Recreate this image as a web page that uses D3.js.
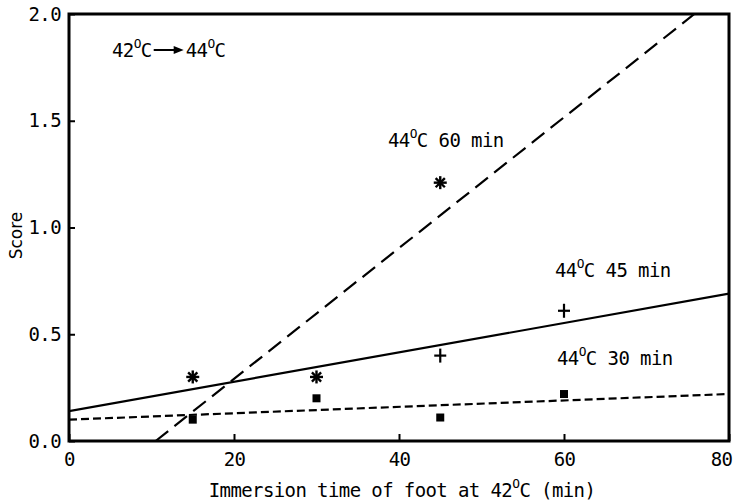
<!DOCTYPE html>
<html><head><meta charset="utf-8">
<script src="https://cdn.jsdelivr.net/npm/d3@7"></script>
<style>body{margin:0;background:#fff}</style>
</head><body>
<svg id="c" width="738" height="504"></svg>
<script>
const xTicks = [0, 20, 40, 60, 80];
const yTicks = [0.0, 0.5, 1.0, 1.5, 2.0];
const times = [15, 30, 45, 60];
const score60 = [0.30, 0.30, 1.21];          // asterisks
const times60 = [15, 30, 45];
const score45 = [0.40, 0.61];                 // plus
const times45 = [45, 60];
const score30 = [0.10, 0.20, 0.11, 0.22];     // squares
const fit60 = [[10.5, 0.0], [75.8, 2.0]];
const fit45 = [[0, 0.14], [80, 0.69]];
const fit30 = [[0, 0.10], [80, 0.22]];

const W = 738, H = 504;
const m = {l: 69, r: 9, t: 14, b: 63};
const svg = d3.select("#c");
const x = d3.scaleLinear().domain([0, 80]).range([m.l, W - m.r]);
const y = d3.scaleLinear().domain([0, 2]).range([H - m.b, m.t]);
const FONT = "DejaVu Sans Mono, monospace";
const FS = 19;

svg.append("clipPath").attr("id", "clip").append("rect")
  .attr("x", m.l).attr("y", m.t).attr("width", W - m.l - m.r).attr("height", H - m.t - m.b);

const gx = svg.append("g").attr("transform", `translate(0,${H - m.b})`)
  .call(d3.axisTop(x).tickValues(xTicks).tickSize(7).tickFormat(""));
gx.select(".domain").remove();
gx.selectAll("line").attr("stroke", "#000").attr("stroke-width", 2);
const gxl = svg.append("g").attr("transform", `translate(0,${H - m.b})`)
  .call(d3.axisBottom(x).tickValues(xTicks).tickSize(0).tickPadding(12).tickFormat(d3.format("d")));
gxl.select(".domain").remove();
gxl.selectAll("text").attr("font-family", FONT).attr("font-size", FS).attr("letter-spacing", -0.6).attr("fill", "#000")
  .attr("dx", d => d === 80 ? -8 : 0);

const gy = svg.append("g").attr("transform", `translate(${m.l},0)`)
  .call(d3.axisRight(y).tickValues(yTicks).tickSize(6).tickFormat(""));
gy.select(".domain").remove();
gy.selectAll("line").attr("stroke", "#000").attr("stroke-width", 2);
const gyl = svg.append("g").attr("transform", `translate(${m.l},0)`)
  .call(d3.axisLeft(y).tickValues(yTicks).tickSize(0).tickPadding(8).tickFormat(d3.format(".1f")));
gyl.select(".domain").remove();
gyl.selectAll("text").attr("font-family", FONT).attr("font-size", FS).attr("letter-spacing", -0.6).attr("fill", "#000");

svg.append("rect").attr("x", m.l).attr("y", m.t).attr("width", W - m.l - m.r).attr("height", H - m.t - m.b)
  .attr("fill", "none").attr("stroke", "#000").attr("stroke-width", 3);

const line = d3.line().x(d => x(d[0])).y(d => y(d[1]));
const g = svg.append("g").attr("clip-path", "url(#clip)");
g.append("path").attr("d", line(fit60)).attr("stroke", "#000").attr("stroke-width", 2.2).attr("fill", "none").attr("stroke-dasharray", "16,8");
g.append("path").attr("d", line(fit45)).attr("stroke", "#000").attr("stroke-width", 2.2).attr("fill", "none");
g.append("path").attr("d", line(fit30)).attr("stroke", "#000").attr("stroke-width", 2.2).attr("fill", "none").attr("stroke-dasharray", "8,4");

function asterisk(sel, cx, cy) {
  const r = 6.5;
  const gg = sel.append("g").attr("transform", `translate(${cx},${cy})`);
  [0, 45, 90, 135].forEach(a => {
    const rad = a * Math.PI / 180;
    gg.append("line").attr("x1", -r * Math.cos(rad)).attr("y1", -r * Math.sin(rad))
      .attr("x2", r * Math.cos(rad)).attr("y2", r * Math.sin(rad))
      .attr("stroke", "#000").attr("stroke-width", 2.4);
  });
}
times60.forEach((t, i) => asterisk(svg, x(t), y(score60[i])));
times45.forEach((t, i) => {
  const gg = svg.append("g").attr("transform", `translate(${x(t)},${y(score45[i])})`);
  gg.append("line").attr("x1", -6).attr("x2", 6).attr("stroke", "#000").attr("stroke-width", 2.2);
  gg.append("line").attr("y1", -7).attr("y2", 7).attr("stroke", "#000").attr("stroke-width", 2.2);
});
svg.selectAll(".sq").data(times).join("rect").attr("class", "sq")
  .attr("x", d => x(d) - 4).attr("y", (d, i) => y(score30[i]) - 4)
  .attr("width", 8).attr("height", 8).attr("fill", "#000");

function degText(px, py, before, after, size, anchor) {
  const t = svg.append("text").attr("x", px).attr("y", py).attr("font-family", FONT)
    .attr("font-size", size).attr("letter-spacing", -0.6).attr("fill", "#000")
    .attr("text-anchor", anchor || "start");
  t.append("tspan").text(before);
  t.append("tspan").attr("font-size", size * 0.68).attr("dy", -size * 0.45).text("O");
  t.append("tspan").attr("dy", size * 0.45).text(after);
  return t;
}
degText(388, 147, "44", "C 60 min", FS);
degText(555, 277, "44", "C 45 min", FS);
degText(557, 365, "44", "C 30 min", FS);

const tx = 112, ty = 57;
const t1 = degText(tx, ty, "42", "C", FS);
const w1 = t1.node().getComputedTextLength();
const ax0 = tx + w1 + 2, ax1 = ax0 + 30;
svg.append("line").attr("x1", ax0).attr("x2", ax1 - 6).attr("y1", ty - 7).attr("y2", ty - 7).attr("stroke", "#000").attr("stroke-width", 2);
svg.append("path").attr("d", `M${ax1},${ty - 7} L${ax1 - 10},${ty - 11} L${ax1 - 10},${ty - 3} Z`).attr("fill", "#000");
degText(ax1 + 2, ty, "44", "C", FS);

degText(402, 497, "Immersion time of foot at 42", "C (min)", FS, "middle");

svg.append("text").attr("transform", `translate(22,${y(1.0) + 8}) rotate(-90)`).attr("text-anchor", "middle")
  .attr("font-family", "DejaVu Sans, sans-serif").attr("font-size", 17).attr("fill", "#000").text("Score");
</script>
</body></html>
